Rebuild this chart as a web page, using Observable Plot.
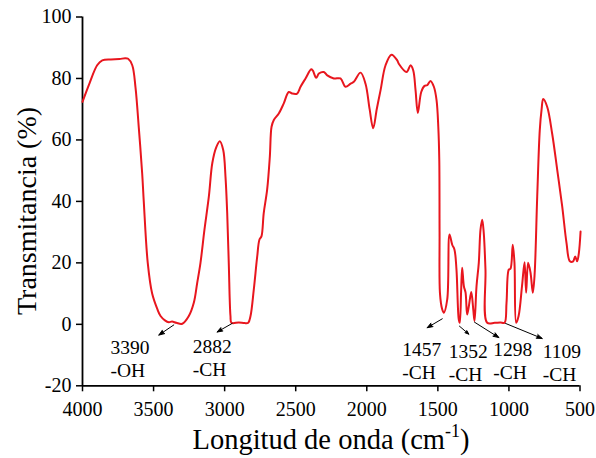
<!DOCTYPE html>
<html>
<head>
<meta charset="utf-8">
<script src="https://cdn.jsdelivr.net/npm/d3@7"></script>
<script src="https://cdn.jsdelivr.net/npm/@observablehq/plot@0.6"></script>
<style>
  html, body { margin: 0; padding: 0; background: #fff; }
  #chart svg { display: block; }
  #chart svg text { font-family: "Liberation Serif", "Times New Roman", serif !important; }
</style>
</head>
<body>
<div id="chart"></div>
<script>
// Wavenumber (cm^-1) and transmittance (%)
const wavenumber = [
  4000, 3950, 3897, 3861, 3800, 3740, 3700, 3679, 3650, 3627, 3604, 3580, 3569, 3541, 3510, 3474,
  3451, 3420, 3393, 3370, 3340, 3298, 3252, 3217, 3193, 3170, 3142, 3111, 3087, 3060, 3034, 3010,
  2994, 2982, 2971, 2959, 2952, 2900, 2860, 2834, 2818, 2795, 2771, 2755, 2741, 2725, 2701, 2682,
  2670, 2654, 2619, 2584, 2549, 2525, 2490, 2466, 2431, 2391, 2380, 2356, 2337, 2302, 2278, 2232,
  2185, 2150, 2114, 2091, 2044, 2009, 1980, 1955, 1930, 1903, 1868, 1826, 1786, 1775, 1720, 1692,
  1673, 1657, 1641, 1617, 1594, 1575, 1552, 1528, 1509, 1497, 1490, 1488, 1485, 1470, 1458, 1434,
  1418, 1399, 1383, 1369, 1353, 1346, 1336, 1329, 1317, 1305, 1294, 1282, 1265, 1251, 1242, 1228,
  1212, 1200, 1188, 1177, 1165, 1153, 1100, 1060, 1031, 1017, 1001, 989, 973, 961, 949, 932,
  908, 890, 879, 865, 848, 832, 820, 801, 783, 770, 759, 731, 696, 660, 625, 595,
  571, 548, 534, 520, 508, 496
];
const transmittance = [
  72.4, 78.5, 84.3, 85.9, 86.2, 86.3, 86.6, 86.4, 84.3, 77.0, 64.0, 49.0, 40.0, 20.0, 10.0, 5.0,
  2.7, 1.3, 0.7, 0.9, 0.5, 0.2, 2.7, 7.0, 13.5, 20.0, 30.8, 41.6, 52.4, 57.5, 59.6, 56.7,
  48.0, 36.2, 20.0, 2.7, 0.5, 0.6, 0.4, 0.5, 2.7, 11.3, 22.0, 27.6, 28.6, 36.2, 43.8, 54.6,
  64.3, 66.5, 68.6, 71.9, 75.6, 75.1, 75.1, 77.3, 80.0, 83.0, 82.6, 80.2, 81.6, 82.1, 81.0, 80.0,
  80.0, 77.3, 78.3, 78.9, 81.9, 78.3, 70.0, 63.8, 70.0, 76.2, 84.3, 87.7, 85.9, 84.8, 82.1, 84.3,
  82.6, 76.2, 68.8, 75.6, 77.6, 77.8, 79.2, 77.3, 72.9, 64.3, 53.5, 30.0, 10.0, 5.0, 3.8, 8.1,
  29.2, 25.9, 24.3, 17.8, 1.6, 0.5, 11.3, 18.4, 12.4, 10.3, 3.2, 5.9, 10.5, 4.9, 1.1, 12.4,
  20.0, 30.8, 34.0, 29.7, 17.8, 0.5, 0.5, 0.6, 0.5, 7.0, 17.8, 18.1, 25.9, 20.0, 0.5, 2.7,
  12.4, 20.2, 10.3, 20.0, 16.8, 10.3, 15.7, 41.6, 63.2, 70.0, 73.3, 70.8, 62.1, 50.2, 38.3, 26.5,
  20.5, 20.5, 22.1, 20.5, 23.2, 30.2
];

// Axis ticks
const xTicks = [4000, 3500, 3000, 2500, 2000, 1500, 1000, 500];
const yTicks = [-20, 0, 20, 40, 60, 80, 100];

// Peak annotations: label, group, text anchor (data units), arrow start/end (data units)
const annLabel = ["3390", "2882", "1457", "1352", "1298", "1109"];
const annGroup = ["-OH", "-CH", "-CH", "-CH", "-CH", "-CH"];
const annTextX = [3803, 3224, 1751, 1423, 1111, 762];
const annTextY = [-4.5, -4.2, -5.2, -5.8, -5.2, -5.8];
const arrowX1 = [3358, 2947, 1469, 1348, 1242, 1024];
const arrowY1 = [-0.2, 0.3, 1.8, -0.6, 0.7, 0.3];
const arrowX2 = [3463, 3053, 1575, 1282, 1071, 766];
const arrowY2 = [-3.5, -2.5, -1.1, -3.2, -4.3, -4.6];

const serif = "'Liberation Serif', 'Times New Roman', serif";
const spectrum = wavenumber.map((w, i) => ({w, t: transmittance[i]}));
const notes = annLabel.map((l, i) => ({
  text: l + "\n" + annGroup[i], tx: annTextX[i], ty: annTextY[i],
  x1: arrowX1[i], y1: arrowY1[i], x2: arrowX2[i], y2: arrowY2[i]
}));

const plot = Plot.plot({
  width: 596,
  height: 458,
  marginLeft: 82,
  marginRight: 16.5,
  marginTop: 16.5,
  marginBottom: 72.7,
  style: {fontFamily: serif, color: "black", background: "white"},
  x: {domain: [4000, 500], ticks: xTicks},
  y: {domain: [-20, 100], ticks: yTicks},
  marks: [
    Plot.axisX({ticks: xTicks, tickSize: 6, tickPadding: 10, fontSize: 20, fontFamily: serif, label: null, strokeWidth: 1.5, tickFormat: d => String(d)}),
    Plot.axisY({ticks: yTicks, tickSize: 6, tickPadding: 5, fontSize: 20, fontFamily: serif, label: null, strokeWidth: 1.5, tickFormat: d => String(d)}),
    Plot.ruleX([4000], {stroke: "black", strokeWidth: 1.8}),
    Plot.ruleY([-20], {stroke: "black", strokeWidth: 1.8}),
    Plot.line(spectrum, {x: "w", y: "t", stroke: "#e8161e", strokeWidth: 2, strokeLinejoin: "round", curve: "catmull-rom"}),
    Plot.arrow(notes, {x1: "x1", y1: "y1", x2: "x2", y2: "y2", stroke: "black", fill: "black", strokeWidth: 1, headLength: 9, headAngle: 40}),
    Plot.text(notes, {x: "tx", y: "ty", text: "text", textAnchor: "start", lineAnchor: "top", fontSize: 19.5, fontFamily: serif, lineHeight: 1.16, fill: "black"})
  ]
});

document.getElementById("chart").appendChild(plot);

// Axis titles (with superscript)
const svg = d3.select(plot);
const xt = svg.append("text")
  .attr("x", 331).attr("y", 449)
  .attr("text-anchor", "middle")
  .attr("font-family", serif)
  .attr("font-size", 28.5)
  .attr("fill", "black");
xt.append("tspan").text("Longitud de onda (cm");
xt.append("tspan").attr("font-size", 18).attr("dy", -12).text("-1");
xt.append("tspan").attr("dy", 12).text(")");

svg.append("text")
  .attr("transform", "translate(36,211) rotate(-90)")
  .attr("text-anchor", "middle")
  .attr("font-family", serif)
  .attr("font-size", 28)
  .attr("fill", "black")
  .text("Transmitancia (%)");
</script>
</body>
</html>
